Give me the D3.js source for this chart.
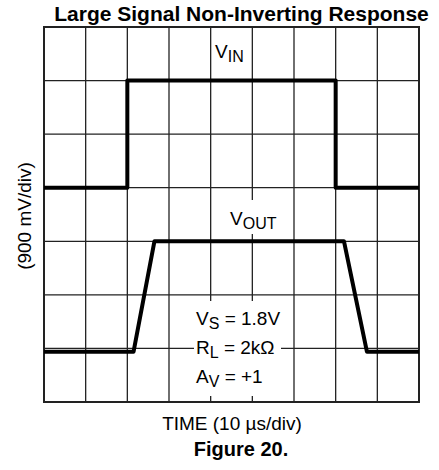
<!DOCTYPE html>
<html>
<head>
<meta charset="utf-8">
<script src="https://cdn.jsdelivr.net/npm/d3@7"></script>
<style>
  body { margin: 0; background: #fff; }
  svg { display: block; font-family: "Liberation Sans", Arial, sans-serif; }
</style>
</head>
<body>
<div id="chart"></div>
<script>
// scope grid: 9 horizontal divisions, 7 vertical divisions
const xDivs = d3.range(0, 10);
const yDivs = d3.range(0, 8);

// input step (time in div, level in div from bottom)
const vinTime = [0, 2, 2, 7, 7, 9];
const vinLevel = [4, 4, 6, 6, 4, 4];

// output response
const voutTime = [0, 2.15, 2.65, 7.2, 7.75, 9];
const voutLevel = [0.94, 0.94, 3, 3, 0.94, 0.94];

const conditions = [
    ['V', 'S', ' = 1.8V'],
    ['R', 'L', ' = 2kΩ'],
    ['A', 'V', ' = +1'],
];

const width = 439;
const height = 470;
const area = { left: 44, right: 419, top: 27, bottom: 402 };

const svg = d3.select('#chart')
    .append('svg')
    .attr('width', width)
    .attr('height', height);

svg.append('rect').attr('width', width).attr('height', height).attr('fill', '#fff');

const xScale = d3.scaleLinear().domain([0, 9]).range([area.left, area.right]);
const yScale = d3.scaleLinear().domain([0, 7]).range([area.bottom, area.top]);

// gridlines
const grid = svg.append('g').attr('class', 'grid');
grid.selectAll('line.v')
    .data(xDivs)
    .join('line')
    .attr('class', 'v')
    .attr('x1', (d) => xScale(d)).attr('x2', (d) => xScale(d))
    .attr('y1', area.top).attr('y2', area.bottom);
grid.selectAll('line.h')
    .data(yDivs)
    .join('line')
    .attr('class', 'h')
    .attr('x1', area.left).attr('x2', area.right)
    .attr('y1', (d) => yScale(d)).attr('y2', (d) => yScale(d));
grid.selectAll('line').attr('stroke', '#222').attr('stroke-width', 1.3);

// outer frame
svg.append('rect')
    .attr('x', area.left).attr('y', area.top)
    .attr('width', area.right - area.left).attr('height', area.bottom - area.top)
    .attr('fill', 'none').attr('stroke', '#222').attr('stroke-width', 2);

const line = d3.line().x((d) => xScale(d[0])).y((d) => yScale(d[1]));

function trace(times, levels) {
    svg.append('path')
        .datum(d3.zip(times, levels))
        .attr('d', line)
        .attr('fill', 'none')
        .attr('stroke', '#000')
        .attr('stroke-width', 4)
        .attr('stroke-linejoin', 'round');
}
trace(vinTime, vinLevel);
trace(voutTime, voutLevel);

function subLabel(g, x, y, main, sub, rest) {
    const t = g.append('text')
        .attr('x', x).attr('y', y)
        .attr('font-size', 19)
        .attr('fill', '#000');
    t.append('tspan').text(main);
    t.append('tspan').attr('font-size', 16).attr('dy', 4).text(sub);
    if (rest) t.append('tspan').attr('dy', -4).text(rest);
    return t;
}

// white patches behind the labels that sit on gridlines
svg.append('rect').attr('x', 226).attr('y', 200).attr('width', 54).attr('height', 34).attr('fill', '#fff');
svg.append('rect').attr('x', 194).attr('y', 301).attr('width', 87).attr('height', 95).attr('fill', '#fff');

subLabel(svg, 215, 58, 'V', 'IN');
subLabel(svg, 230, 225, 'V', 'OUT');
conditions.forEach((c, i) => subLabel(svg, 196, 325 + i * 29, c[0], c[1], c[2]));

// titles
svg.append('text')
    .attr('x', 241.5).attr('y', 21)
    .attr('text-anchor', 'middle')
    .attr('font-size', 21).attr('font-weight', 'bold')
    .text('Large Signal Non-Inverting Response');

svg.append('text')
    .attr('x', 232).attr('y', 430)
    .attr('text-anchor', 'middle')
    .attr('font-size', 19)
    .text('TIME (10 µs/div)');

svg.append('text')
    .attr('x', 241).attr('y', 456)
    .attr('text-anchor', 'middle')
    .attr('font-size', 20).attr('font-weight', 'bold')
    .text('Figure 20.');

svg.append('text')
    .attr('transform', 'translate(31, 216) rotate(-90)')
    .attr('text-anchor', 'middle')
    .attr('font-size', 19)
    .text('(900 mV/div)');
</script>
</body>
</html>
